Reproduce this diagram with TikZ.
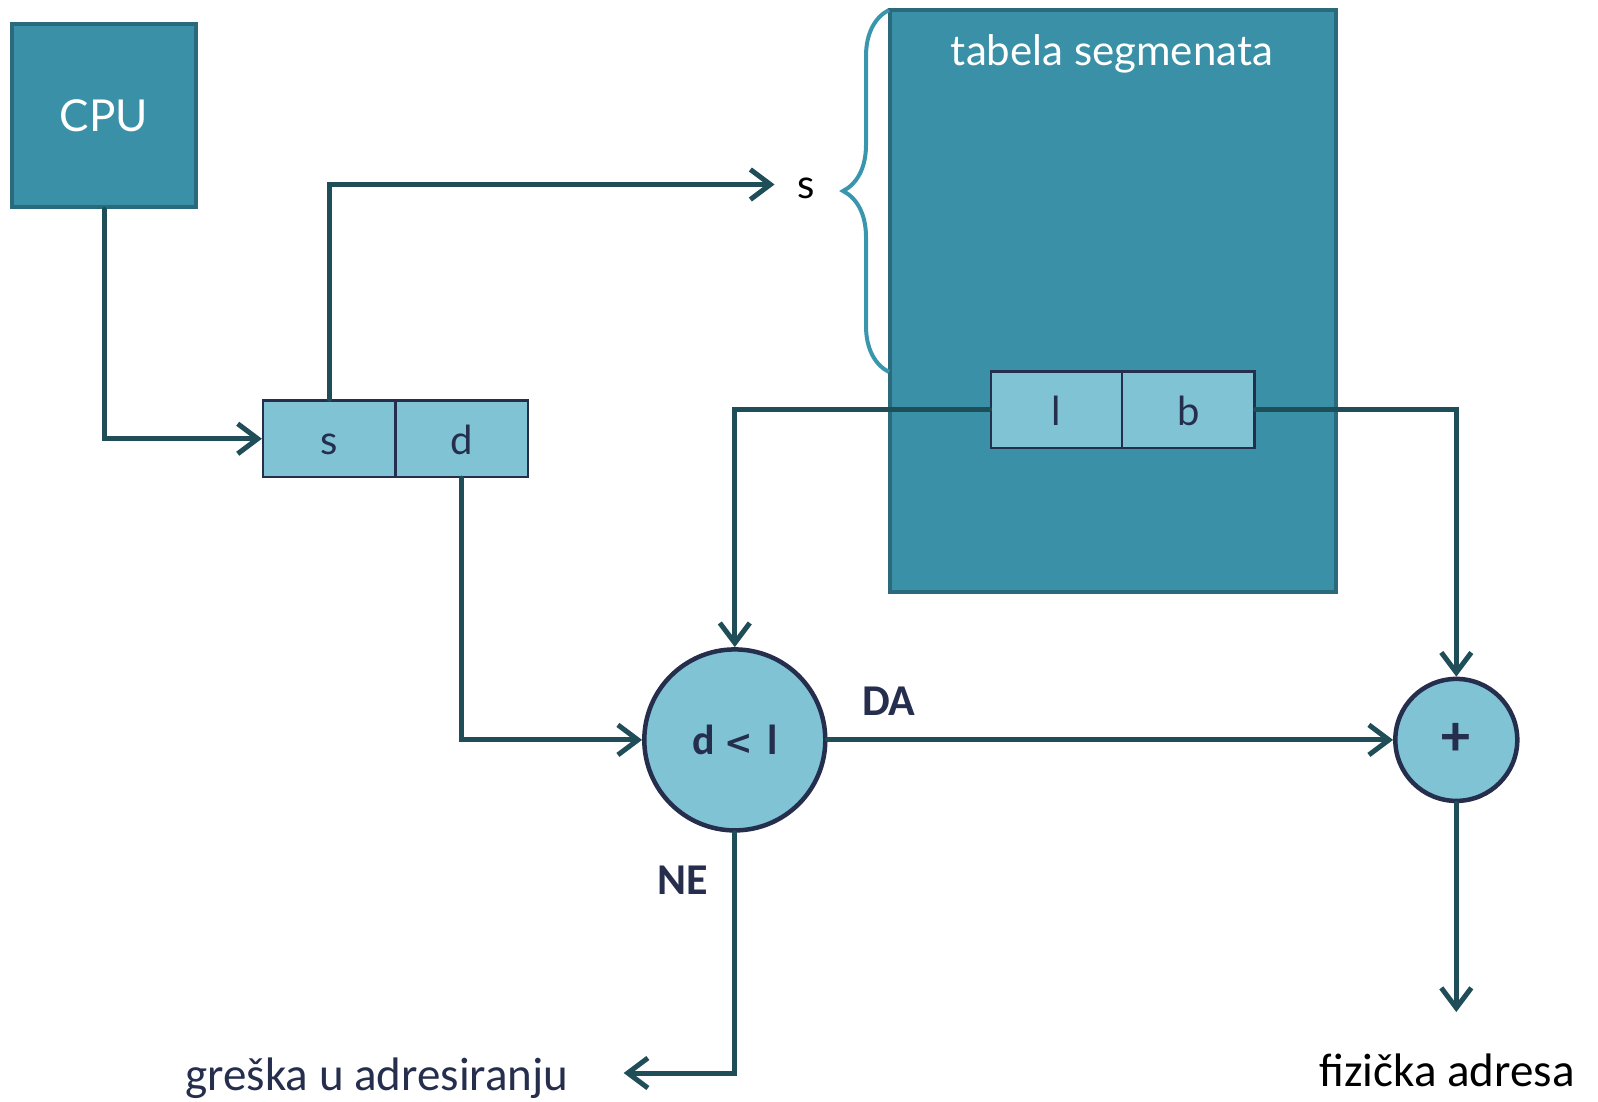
\documentclass[tikz,border=0pt]{standalone}
\usepackage{fontspec}
\setmainfont{Carlito}
\newfontfamily\gill{Lato}
\newfontfamily\dejavu{DejaVu Sans}
\usetikzlibrary{arrows.meta,decorations.pathreplacing}
\definecolor{cpufill}{HTML}{3A90A7}
\definecolor{cpudraw}{HTML}{2A6A7C}
\definecolor{lightfill}{HTML}{7FC3D4}
\definecolor{navy}{HTML}{252E4D}
\definecolor{conn}{HTML}{1F4D58}
\definecolor{bracecol}{HTML}{3A96AD}
\tikzset{
  bigbox/.style={draw=cpudraw, fill=cpufill, line width=4.5pt, rectangle, inner sep=0pt},
  cell/.style={draw=navy, fill=lightfill, line width=2.2pt, rectangle, inner sep=0pt,
    minimum height=76.5pt, text height=32pt, text depth=0pt, text=navy,
    font=\gill\fontsize{40}{48}\selectfont},
  opcircle/.style={draw=navy, fill=lightfill, line width=4.5pt, circle, inner sep=0pt, text=navy},
  connector/.style={draw=conn, line width=5pt, line cap=round, line join=miter,
    -{Straight Barb[length=20pt,width=30pt,line width=5pt]}},
  boldlabel/.style={text=navy, font=\bfseries\fontsize{44}{50}\selectfont, inner sep=0pt},
  outlabel/.style={inner sep=0pt, font=\fontsize{47}{54}\selectfont}
}
\begin{document}
\begin{tikzpicture}[x=1pt,y=1pt]
\useasboundingbox (0,0) rectangle (1598,-1101);
% boxes
\node[bigbox, minimum width=184pt, minimum height=183pt, text=white,
  font=\gill\fontsize{44}{52}\selectfont] (cpu) at (104,-115.7) {CPU};
\node[bigbox, minimum width=446pt, minimum height=582pt] (table) at (1112.85,-301.1) {};
\node[text=white, font=\gill\fontsize{42}{50}\selectfont, inner sep=0pt] (tabtitle) at (1112,-54) {tabela segmenata};
% brace
\draw[bracecol, line width=4pt, decorate, decoration={brace, amplitude=46pt, aspect=0.5}]
  (889,-372) -- (889,-10);
% address cells
\node[cell, minimum width=132.4pt] (scell) at (329.2,-438.75) {s};
\node[cell, minimum width=132.6pt] (dcell) at (461.7,-438.75) {d};
\node[cell, minimum width=131.4pt] (lcell) at (1056.3,-409.7) {l};
\node[cell, minimum width=132.5pt] (bcell) at (1188.25,-409.7) {b};
% operation circles
\node[opcircle, minimum size=181pt, font=\bfseries\fontsize{42}{48}\selectfont] (cmp) at (734.8,-739.9)
  {d\hspace{10pt}{\dejavu\bfseries\fontsize{34}{40}\selectfont <}\hspace{14pt}l};
\node[opcircle, minimum size=122pt, font=\bfseries\fontsize{58}{64}\selectfont] (plus) at (1456.3,-739.9) {+};
% labels
\node[inner sep=0pt, font=\gill\fontsize{40}{48}\selectfont] (slabel) at (806,-188.5) {s};
\node[boldlabel] (da) at (888.7,-701) {DA};
\node[boldlabel] (ne) at (682.8,-880.5) {NE};
\node[outlabel, text=navy] (greska) at (377,-1078) {greška u adresiranju};
\node[outlabel, text=black] (fizicka) at (1447,-1070) {fizička adresa};
\coordinate (sarrow) at (774.5,-184.5);
\coordinate (gerrow) at (623.7,-1073);
\coordinate (farrow) at (1456.3,-1012);
% connectors
\draw[connector] (cpu.south) |- (scell.west);
\draw[connector] (scell.north) |- (sarrow);
\draw[connector] (dcell.south) |- (cmp.west);
\draw[connector] (lcell.west) -| (cmp.north);
\draw[connector] (bcell.east) -| (plus.north);
\draw[connector] (cmp.east) -- (plus.west);
\draw[connector] (cmp.south) |- (gerrow);
\draw[connector] (plus.south) -- (farrow);
\end{tikzpicture}
\end{document}
